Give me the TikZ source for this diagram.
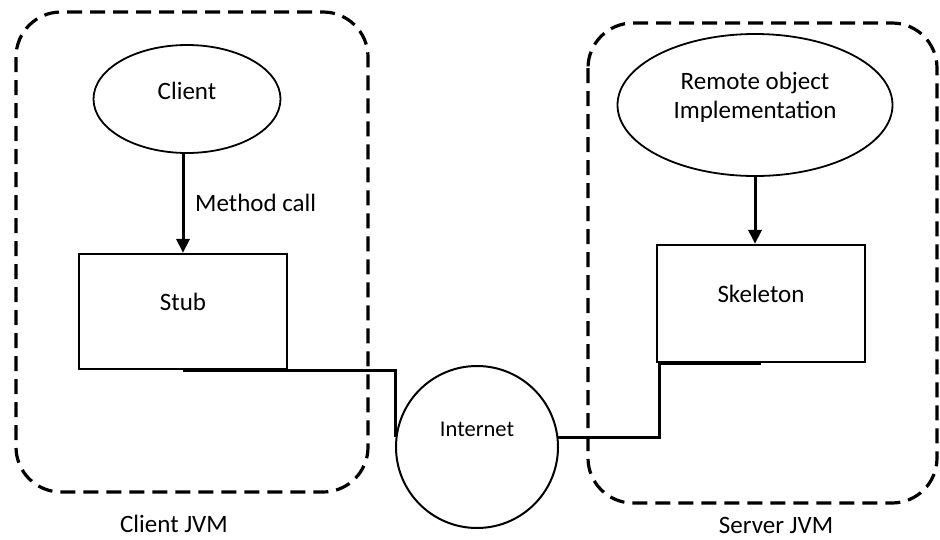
\documentclass[tikz,border=0pt]{standalone}
\usepackage{fontspec}
\setmainfont{Carlito}
\usetikzlibrary{shapes.geometric,arrows.meta}
\tikzset{
  txt/.style={font=\fontsize{25}{29}\selectfont, inner sep=0pt},
  jvm/.style={draw, line width=3.2pt, rounded corners=45pt, dash pattern=on 15pt off 8pt},
  oval/.style={draw, ellipse, line width=1.8pt, inner sep=0pt},
  box/.style={draw, rectangle, line width=2.2pt, inner sep=0pt},
  inet/.style={draw, circle, line width=2pt, inner sep=0pt},
  callarrow/.style={line width=3pt, -{Triangle[length=14pt,width=13pt]}},
  wire/.style={line width=3pt}
}
\begin{document}
\begin{tikzpicture}[x=1pt,y=-1pt]
\useasboundingbox (0,0) rectangle (940,539);
% JVM containers
\draw[jvm] (16,12) rectangle (368,492);
\draw[jvm] (588,23) rectangle (937,503);
% nodes
\node[oval, minimum width=187pt, minimum height=108pt,
      label={[txt, yshift=8pt]center:Client}] (client) at (187,99) {};
\node[oval, minimum width=275pt, minimum height=142pt,
      label={[txt, yshift=8pt, align=center]center:Remote object\\Implementation}] (remote) at (755,105) {};
\node[box, minimum width=208pt, minimum height=115pt,
      label={[txt, yshift=10pt]center:Stub}] (stub) at (183,311.5) {};
\node[box, minimum width=208pt, minimum height=117pt,
      label={[txt, yshift=10pt]center:Skeleton}] (skel) at (761,303.5) {};
\node[inet, minimum size=162pt,
      label={[txt, font=\fontsize{22.5}{27}\selectfont, yshift=18pt]center:Internet}] (net) at (477,447) {};
% labels
\node[txt, anchor=west] (mc) at (195,203) {Method call};
\node[txt] (cjvm) at (174,524) {Client JVM};
\node[txt] (sjvm) at (776,525) {Server JVM};
% connectors
\draw[callarrow] (stub.north |- client.south) -- (stub.north);
\draw[callarrow] (remote.south) -- (remote.south |- skel.north);
\draw[wire] (stub.south) -| (net.173);
\draw[wire] (net.7) -| ([xshift=4pt]skel.south west) -- (skel.south);
\end{tikzpicture}
\end{document}
